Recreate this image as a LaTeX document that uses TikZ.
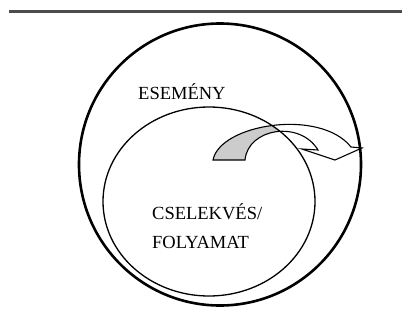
\documentclass[tikz,border=0pt]{standalone}
\usepackage{fontspec}
\setmainfont{Liberation Serif}
\begin{document}
\begin{tikzpicture}[x=1pt,y=-1pt,
  lbl/.style={anchor=base west, inner sep=0pt, font=\fontsize{18.5}{22}\selectfont},
  outerring/.style={line width=2.6pt},
  innerring/.style={line width=1.3pt},
  arrowline/.style={line width=1.1pt, line join=miter}]
\path[use as bounding box] (0,0) rectangle (402,333);
% top rule
\coordinate (ruleL) at (9,11.5);
\coordinate (ruleR) at (402,11.5);
\draw[line width=3pt, color=black!70] (ruleL) -- (ruleR);
% arrow body
\fill[white] (213,160) .. controls (220,124) and (320,108) .. (351,147) -- (362,148) -- (335,160) -- (302,149) -- (318,150) .. controls (300,120) and (248,128) .. (245,160) -- cycle;
\begin{scope}
\clip (209,201.5) ellipse [x radius=106, y radius=94.5];
\fill[black!20] (213,160) .. controls (220,124) and (320,108) .. (351,147) -- (362,148) -- (335,160) -- (302,149) -- (318,150) .. controls (300,120) and (248,128) .. (245,160) -- cycle;
\end{scope}
\draw[arrowline] (213,160) .. controls (220,124) and (320,108) .. (351,147) -- (362,148) -- (335,160) -- (302,149) -- (318,150) .. controls (300,120) and (248,128) .. (245,160) -- cycle;
% circles
\draw[outerring] (220,164.5) circle [radius=141];
\draw[innerring] (209,201.5) ellipse [x radius=106, y radius=94.5];
% labels
\node[lbl] (esemeny) at (138,99) {ESEMÉNY};
\node[lbl] (cselekves) at (152,219) {CSELEKVÉS/};
\node[lbl] (folyamat) at (152,248) {FOLYAMAT};
\end{tikzpicture}
\end{document}
